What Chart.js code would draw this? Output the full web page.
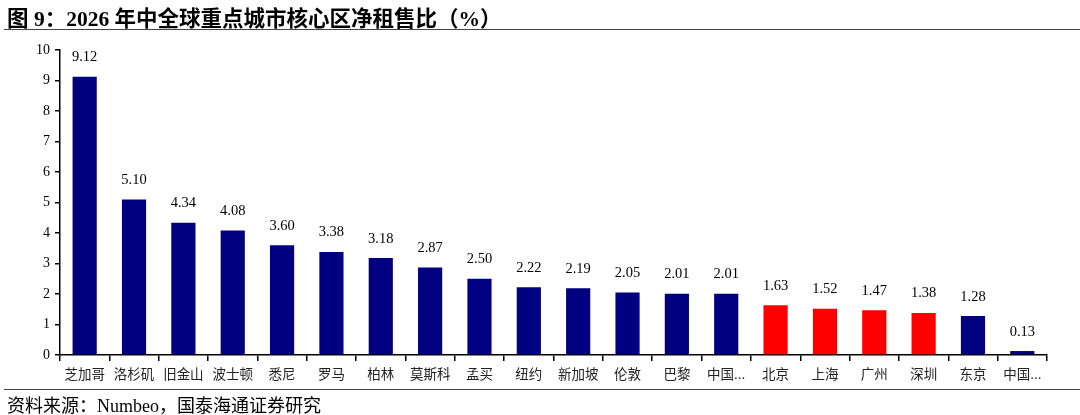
<!DOCTYPE html>
<html><head><meta charset="utf-8">
<script src="https://cdn.jsdelivr.net/npm/chart.js@4/dist/chart.umd.min.js"></script>
<style>
html,body{margin:0;padding:0;background:#fff;width:1080px;height:415px;overflow:hidden;}
#wrap{position:absolute;left:0;top:0;width:1080px;height:415px;}
#title{position:absolute;left:7px;top:1px;font-family:"Liberation Serif","Noto Sans CJK SC",serif;font-weight:bold;font-size:21.5px;color:#000;white-space:nowrap;}
#rule1{position:absolute;left:4px;top:29px;width:1076px;height:1px;background:#444;}
#rule2{position:absolute;left:4px;top:389px;width:1076px;height:1px;background:#444;}
#src{position:absolute;left:7px;top:391px;font-family:"Liberation Serif","Noto Sans CJK SC",serif;font-size:18px;color:#000;white-space:nowrap;}
</style></head>
<body>
<div id="wrap"><canvas id="c" width="1080" height="415"></canvas></div>
<div id="title">图 9：2026 年中全球重点城市核心区净租售比（%）</div>
<div id="rule1"></div>
<div id="rule2"></div>
<div id="src">资料来源：Numbeo，国泰海通证券研究</div>
<script>
const categories = ["芝加哥","洛杉矶","旧金山","波士顿","悉尼","罗马","柏林","莫斯科","孟买","纽约","新加坡","伦敦","巴黎","中国...","北京","上海","广州","深圳","东京","中国..."];
const values = [9.12,5.10,4.34,4.08,3.60,3.38,3.18,2.87,2.50,2.22,2.19,2.05,2.01,2.01,1.63,1.52,1.47,1.38,1.28,0.13];
const highlighted = ["北京","上海","广州","深圳"];
const yTicks = [0,1,2,3,4,5,6,7,8,9,10];

const NAVY = "#000080", RED = "#FF0000";
const barColors = categories.map(c => highlighted.includes(c) ? RED : NAVY);

const valueLabels = {
  id: "valueLabels",
  afterDatasetsDraw(chart) {
    const ctx = chart.ctx;
    const meta = chart.getDatasetMeta(0);
    ctx.save();
    ctx.font = "14.5px 'Liberation Serif', serif";
    ctx.fillStyle = "#000";
    ctx.textAlign = "center";
    ctx.textBaseline = "bottom";
    meta.data.forEach((bar, i) => {
      ctx.fillText(values[i].toFixed(2), bar.x, bar.y - 12);
    });
    ctx.restore();
  }
};

new Chart(document.getElementById("c"), {
  type: "bar",
  data: {
    labels: categories,
    datasets: [{
      data: values,
      backgroundColor: barColors,
      borderWidth: 0,
      barPercentage: 0.98,
      categoryPercentage: 0.5
    }]
  },
  options: {
    responsive: false,
    animation: false,
    devicePixelRatio: 1,
    layout: { padding: { top: 50, right: 33, bottom: 0, left: 0 } },
    plugins: { legend: { display: false }, tooltip: { enabled: false } },
    scales: {
      x: {
        offset: true,
        grid: { display: true, offset: true, drawOnChartArea: false, drawTicks: true, tickLength: 6, color: "#000", lineWidth: 1.5 },
        border: { display: true, color: "#000", width: 1.5 },
        ticks: { color: "#222", font: { family: "'Noto Sans CJK SC', sans-serif", size: 13.5 }, padding: 5, maxRotation: 0, autoSkip: false },
        afterFit(scale) { scale.height = 60; }
      },
      y: {
        min: 0, max: 10,
        afterBuildTicks(scale) { scale.ticks = yTicks.map(v => ({ value: v })); },
        grid: { display: true, drawOnChartArea: false, drawTicks: true, tickLength: 5, color: "#000", lineWidth: 1.5 },
        border: { display: true, color: "#000", width: 1.5 },
        ticks: { color: "#000", font: { family: "'Liberation Serif', serif", size: 14 }, padding: 5 },
        afterFit(scale) { scale.width = 60; }
      }
    }
  },
  plugins: [valueLabels]
});
</script>
</body></html>
